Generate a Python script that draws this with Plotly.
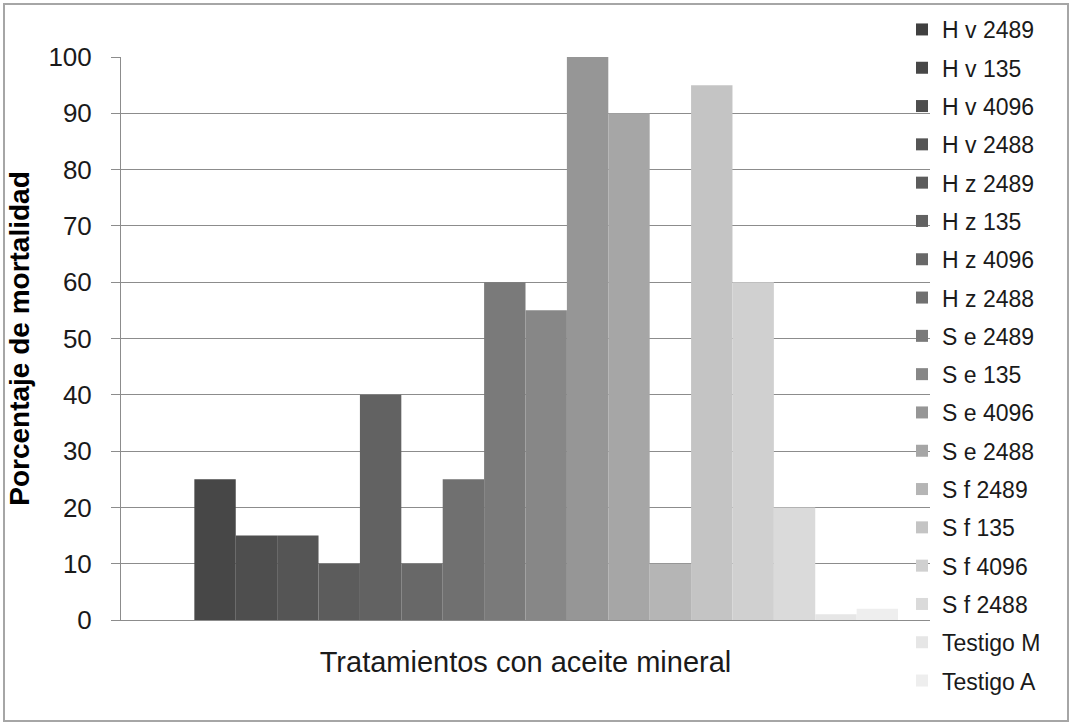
import plotly.graph_objects as go

# Mortality (%) per treatment with mineral oil
series_names = [
    "H v 2489", "H v 135", "H v 4096", "H v 2488",
    "H z 2489", "H z 135", "H z 4096", "H z 2488",
    "S e 2489", "S e 135", "S e 4096", "S e 2488",
    "S f 2489", "S f 135", "S f 4096", "S f 2488",
    "Testigo M", "Testigo A",
]
mortality = [0, 25, 15, 15, 10, 40, 10, 25, 60, 55, 100, 90, 10, 95, 60, 20, 1, 2]
gray_levels = [64, 71, 78, 85, 92, 98, 104, 112, 122, 135, 150, 166, 181, 196, 208, 218, 230, 238]
category = ["Tratamientos con aceite mineral"]
y_ticks = list(range(0, 101, 10))

W, H = 1073, 723
L, R, T, B = 121, 143, 57, 103
pw, ph = W - L - R, H - T - B

def px_x(p):
    return (p - L) / pw

def px_y(p):
    return (H - B - p) / ph

fig = go.Figure()
for i, (name, val, g) in enumerate(zip(series_names, mortality, gray_levels)):
    fig.add_trace(go.Bar(
        x=category, y=[val], name=name,
        marker=dict(color=f"rgb({g},{g},{g})", line=dict(width=0)),
        legendgroup=f"g{i}",
    ))

font = "Liberation Sans, Arial, sans-serif"
fig.update_layout(
    width=W, height=H,
    margin=dict(l=L, r=R, t=T, b=B, autoexpand=False),
    paper_bgcolor="white", plot_bgcolor="white",
    barmode="group", bargap=0.079, bargroupgap=0,
    font=dict(family=font, color="#1a1a1a"),
    showlegend=True,
    legend=dict(
        x=px_x(902), xanchor="left",
        yref="container", y=1 - 8 / H, yanchor="top",
        maxheight=715,
        font=dict(size=23, family=font, color="#1a1a1a"),
        traceorder="grouped", tracegroupgap=5.4, itemwidth=30,
        bgcolor="rgba(0,0,0,0)",
    ),
    xaxis=dict(
        showticklabels=False, ticks="", showgrid=False,
        showline=True, linecolor="#8c8c8c", linewidth=1,
        title=dict(text="Tratamientos con aceite mineral",
                   font=dict(size=29, family=font, color="#1a1a1a"), standoff=31),
    ),
    yaxis=dict(
        range=[0, 100], tickvals=y_ticks, ticks="outside", ticklen=9,
        tickcolor="#8c8c8c", tickwidth=1,
        showgrid=True, gridcolor="#8c8c8c", gridwidth=1,
        showline=True, linecolor="#8c8c8c", linewidth=1,
        zeroline=False,
        tickfont=dict(size=26, family=font, color="#1a1a1a"),
        ticklabelstandoff=14,
        title=dict(text="<b>Porcentaje de mortalidad</b>",
                   font=dict(size=28, family=font, color="#000000"), standoff=10),
    ),
    shapes=[dict(
        type="rect", xref="paper", yref="paper",
        x0=px_x(4), x1=px_x(1068), y0=px_y(721), y1=px_y(4),
        line=dict(color="#a6a6a6", width=2), fillcolor="rgba(0,0,0,0)", layer="below",
    )],
)

fig.write_html("out.html")
